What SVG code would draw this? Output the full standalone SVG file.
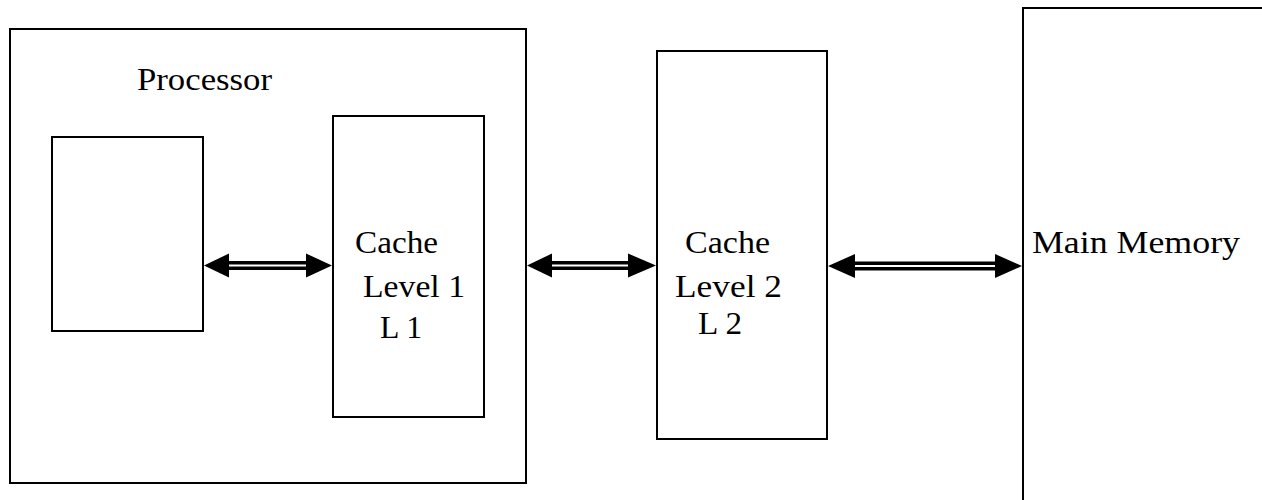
<svg xmlns="http://www.w3.org/2000/svg" width="1262" height="500" viewBox="0 0 1262 500">
<style>
.box{fill:#fff;stroke:#000;stroke-width:2}
.lbl{font-family:"Liberation Serif","Times New Roman",serif;font-size:32px;fill:#000}
.shaft{stroke:#000;stroke-width:9}
.gap{stroke:#fff;stroke-width:2}
.head{fill:#000}
</style>
<rect width="1262" height="500" fill="#fff"/>
<g id="processor">
<rect class="box" x="10" y="29" width="516" height="454"/>
<text class="lbl" x="137" y="90" textLength="135" lengthAdjust="spacingAndGlyphs">Processor</text>
</g>
<g id="cpu">
<rect class="box" x="52" y="137" width="151" height="194"/>
</g>
<g id="cache-l1">
<rect class="box" x="333" y="116" width="151" height="301"/>
<text class="lbl" x="355" y="253" textLength="83" lengthAdjust="spacingAndGlyphs">Cache</text>
<text class="lbl" x="363" y="297" textLength="102" lengthAdjust="spacingAndGlyphs">Level 1</text>
<text class="lbl" x="380" y="338" textLength="42" lengthAdjust="spacingAndGlyphs">L 1</text>
</g>
<g id="cache-l2">
<rect class="box" x="657" y="51" width="170" height="388"/>
<text class="lbl" x="685" y="253" textLength="85" lengthAdjust="spacingAndGlyphs">Cache</text>
<text class="lbl" x="675" y="297" textLength="107" lengthAdjust="spacingAndGlyphs">Level 2</text>
<text class="lbl" x="698" y="334" textLength="44" lengthAdjust="spacingAndGlyphs">L 2</text>
</g>
<g id="main-memory">
<rect class="box" x="1023" y="8" width="260" height="510"/>
<text class="lbl" x="1032" y="253" textLength="208" lengthAdjust="spacingAndGlyphs">Main Memory</text>
</g>
<g id="connectors">
<line class="shaft" x1="225" y1="265.5" x2="310" y2="265.5"/>
<line class="gap" x1="229" y1="265.5" x2="306" y2="265.5"/>
<path class="head" d="M204,265.5 L229,253.5 L229,277.5 Z"/>
<path class="head" d="M332,265.5 L306,253.5 L306,277.5 Z"/>
<line class="shaft" x1="548" y1="265.5" x2="632" y2="265.5"/>
<line class="gap" x1="552" y1="265.5" x2="628" y2="265.5"/>
<path class="head" d="M527,265.5 L552,253.5 L552,277.5 Z"/>
<path class="head" d="M656,265.5 L628,253.5 L628,277.5 Z"/>
<line class="shaft" x1="851" y1="266" x2="999" y2="266"/>
<line class="gap" x1="855" y1="266" x2="995" y2="266"/>
<path class="head" d="M828,266 L855,254 L855,278 Z"/>
<path class="head" d="M1022,266 L995,254 L995,278 Z"/>
</g>
</svg>
